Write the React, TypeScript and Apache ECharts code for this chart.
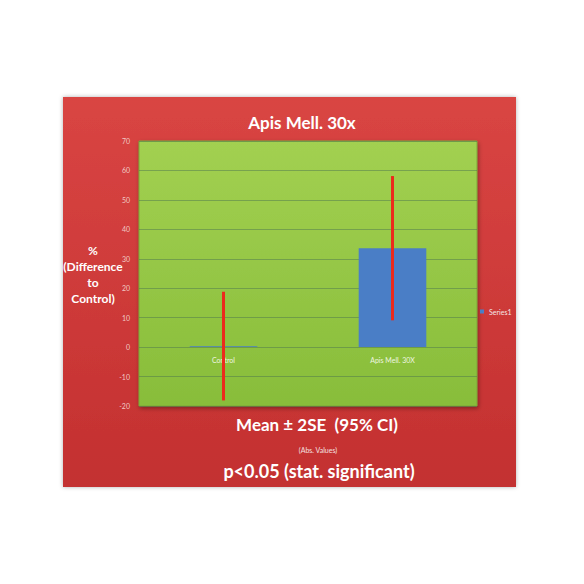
import React, { useEffect, useRef } from "react";
import * as echarts from "echarts";

const categories = ["Control", "Apis Mell. 30X"];
const means = [0.3, 33.6];
const errLow = [-18.1, 9.1];
const errHigh = [18.8, 58.1];
const yTicks = { min: -20, max: 70, interval: 10 };

export default function App() {
  const ref = useRef<HTMLDivElement>(null);
  useEffect(() => {
    if (!ref.current) return;
    const chart = echarts.init(ref.current, undefined, { renderer: "svg" });
    const font = "Lato, 'Open Sans', sans-serif";
    chart.setOption({
      animation: false,
      backgroundColor: "#ffffff",
      graphic: [
        {
          type: "rect",
          z: -10,
          shape: { x: 63, y: 97, width: 453, height: 390 },
          style: {
            fill: new echarts.graphic.LinearGradient(0, 0, 0, 1, [
              { offset: 0, color: "#d94543" },
              { offset: 1, color: "#c33030" },
            ]),
            shadowBlur: 4,
            shadowColor: "rgba(0,0,0,0.3)",
          },
        },
        {
          type: "text",
          x: 302,
          y: 122,
          style: {
            text: "Apis Mell. 30x",
            fill: "#ffffff",
            font: `bold 17px ${font}`,
            align: "center",
            verticalAlign: "middle",
          },
        },
        {
          type: "text",
          x: 93,
          y: 274,
          style: {
            text: "%\n(Difference\nto\nControl)",
            fill: "#ffffff",
            font: `bold 12px ${font}`,
            lineHeight: 16,
            align: "center",
            verticalAlign: "middle",
          },
        },
        {
          type: "text",
          x: 317,
          y: 424,
          style: {
            text: "Mean \u00b1 2SE  (95% CI)",
            fill: "#ffffff",
            font: `bold 17px ${font}`,
            align: "center",
            verticalAlign: "middle",
          },
        },
        {
          type: "text",
          x: 318,
          y: 450,
          style: {
            text: "(Abs. Values)",
            fill: "#f4e0e0",
            font: `7px ${font}`,
            align: "center",
            verticalAlign: "middle",
          },
        },
        {
          type: "text",
          x: 319,
          y: 471,
          style: {
            text: "p<0.05 (stat. significant)",
            fill: "#ffffff",
            font: `bold 18px ${font}`,
            align: "center",
            verticalAlign: "middle",
          },
        },
      ],
      legend: {
        left: 475,
        top: 303,
        orient: "vertical",
        itemWidth: 4,
        itemHeight: 4,
        itemGap: 2,
        icon: "rect",
        data: ["Series1"],
        textStyle: { color: "#f4e6e6", fontSize: 7, fontFamily: font },
      },
      grid: {
        left: 139,
        right: 107,
        top: 141,
        bottom: 178,
        show: true,
        backgroundColor: new echarts.graphic.LinearGradient(0, 0, 0, 1, [
          { offset: 0, color: "#a2d051" },
          { offset: 1, color: "#88bd3a" },
        ]),
        borderWidth: 1,
        borderColor: "#7aa838",
        shadowBlur: 4,
        shadowOffsetX: 1,
        shadowOffsetY: 2,
        shadowColor: "rgba(0,0,0,0.35)",
      },
      xAxis: {
        type: "category",
        data: categories,
        axisLine: { show: false },
        axisTick: { show: false },
        axisLabel: {
          color: "#eef5e0",
          fontSize: 7,
          fontFamily: font,
          margin: -50,
        },
      },
      yAxis: {
        type: "value",
        min: yTicks.min,
        max: yTicks.max,
        interval: yTicks.interval,
        axisLine: { show: false },
        axisTick: { show: false },
        axisLabel: {
          color: "#f0c8c4",
          fontSize: 7,
          fontFamily: font,
          margin: 9,
        },
        splitLine: { lineStyle: { color: "rgba(70,110,80,0.45)", width: 1 } },
      },
      series: [
        {
          name: "Series1",
          type: "bar",
          data: means,
          barWidth: "40%",
          itemStyle: { color: "#4a7ec6" },
        },
        {
          name: "err",
          type: "custom",
          data: categories.map((_, i) => [i, errLow[i], errHigh[i]]),
          renderItem: (params: any, api: any) => {
            const x = api.value(0);
            const lo = api.coord([x, api.value(1)]);
            const hi = api.coord([x, api.value(2)]);
            return {
              type: "line",
              shape: { x1: lo[0], y1: lo[1], x2: hi[0], y2: hi[1] },
              style: { stroke: "#ec2a1c", lineWidth: 3 },
            };
          },
          encode: { x: 0, y: [1, 2] },
          z: 5,
        },
      ],
    });
    return () => chart.dispose();
  }, []);
  return (
    <div
      ref={ref}
      style={{ position: "absolute", left: 0, top: 0, width: 584, height: 584 }}
    />
  );
}
